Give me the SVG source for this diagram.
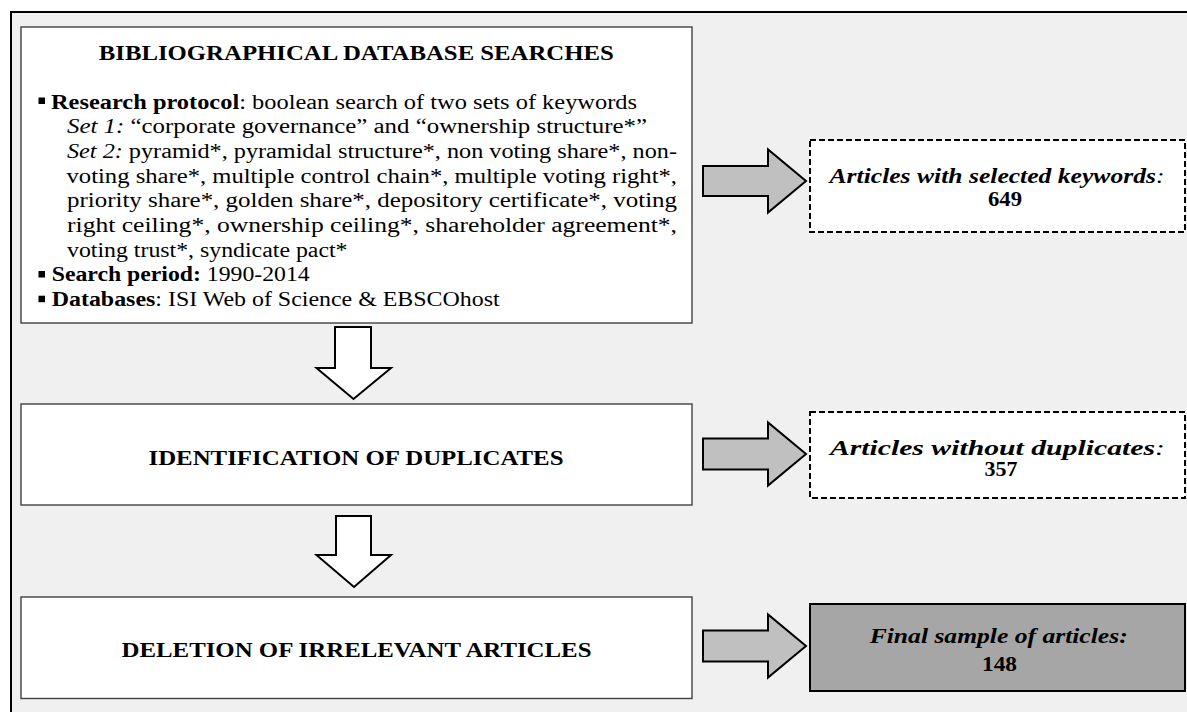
<svg xmlns="http://www.w3.org/2000/svg" width="1187" height="712" viewBox="0 0 1187 712">
<style>
text{font-family:"Liberation Serif","Times New Roman",serif;font-size:20px;fill:#000}
.b{font-weight:bold}
.i{font-style:italic}
.bi{font-weight:bold;font-style:italic}
.box{fill:#fff;stroke:#404040;stroke-width:1.4}
.dash{fill:#fff;stroke:#000;stroke-width:2;stroke-dasharray:6 3}
.final{fill:#a6a6a6;stroke:#000;stroke-width:2}
.darr{fill:#fff;stroke:#000;stroke-width:2;stroke-linejoin:miter}
.rarr{fill:#c0c0c0;stroke:#000;stroke-width:2;stroke-linejoin:miter}
.mid{text-anchor:middle}
</style>
<rect x="0" y="0" width="1187" height="712" fill="#fff"/>
<rect x="11" y="12" width="1176" height="700" fill="#f0f0f0"/>
<path d="M11 712 V12 H1187" fill="none" stroke="#000" stroke-width="2"/>

<g id="node-search">
<rect class="box" x="21" y="27" width="671" height="296"/>
<text class="b mid" x="356.3" y="60" textLength="515" lengthAdjust="spacingAndGlyphs">BIBLIOGRAPHICAL DATABASE SEARCHES</text>
<rect x="38.5" y="97.5" width="6.5" height="6.5" fill="#000"/>
<text x="51" y="108.5" textLength="586" lengthAdjust="spacingAndGlyphs"><tspan class="b">Research protocol</tspan>: boolean search of two sets of keywords</text>
<text x="67" y="133.2" textLength="580" lengthAdjust="spacingAndGlyphs"><tspan class="i">Set 1:</tspan> “corporate governance” and “ownership structure*”</text>
<text x="67" y="157.9" textLength="610" lengthAdjust="spacingAndGlyphs"><tspan class="i">Set 2:</tspan> pyramid*, pyramidal structure*, non voting share*, non-</text>
<text x="66.5" y="182.6" textLength="610.5" lengthAdjust="spacingAndGlyphs">voting share*, multiple control chain*, multiple voting right*,</text>
<text x="67" y="207.3" textLength="610" lengthAdjust="spacingAndGlyphs">priority share*, golden share*, depository certificate*, voting</text>
<text x="67" y="232" textLength="610" lengthAdjust="spacingAndGlyphs">right ceiling*, ownership ceiling*, shareholder agreement*,</text>
<text x="67" y="256.7" textLength="280.5" lengthAdjust="spacingAndGlyphs">voting trust*, syndicate pact*</text>
<rect x="38.5" y="271" width="6.5" height="6.5" fill="#000"/>
<text x="51.7" y="281.4" textLength="258" lengthAdjust="spacingAndGlyphs"><tspan class="b">Search period:</tspan> 1990-2014</text>
<rect x="38.5" y="295.7" width="6.5" height="6.5" fill="#000"/>
<text x="51.7" y="306.1" textLength="448" lengthAdjust="spacingAndGlyphs"><tspan class="b">Databases</tspan>: ISI Web of Science &amp; EBSCOhost</text>
</g>

<g id="node-duplicates">
<rect class="box" x="21" y="404" width="671" height="101"/>
<text class="b mid" x="356" y="465" textLength="415" lengthAdjust="spacingAndGlyphs">IDENTIFICATION OF DUPLICATES</text>
</g>

<g id="node-deletion">
<rect class="box" x="21" y="597" width="671" height="101.5"/>
<text class="b mid" x="356.5" y="657" textLength="470" lengthAdjust="spacingAndGlyphs">DELETION OF IRRELEVANT ARTICLES</text>
</g>

<g id="node-keywords">
<rect class="dash" x="810" y="140" width="375" height="92"/>
<text class="mid" x="997" y="182.5" textLength="335" lengthAdjust="spacingAndGlyphs"><tspan class="bi">Articles with selected keywords</tspan><tspan class="i">:</tspan></text>
<text class="b mid" x="1005" y="206" textLength="34" lengthAdjust="spacingAndGlyphs">649</text>
</g>

<g id="node-noduplicates">
<rect class="dash" x="810" y="412" width="375" height="86"/>
<text class="mid" x="997.4" y="455" textLength="335" lengthAdjust="spacingAndGlyphs"><tspan class="bi">Articles without duplicates</tspan><tspan class="i">:</tspan></text>
<text class="b mid" x="1001" y="476" textLength="33" lengthAdjust="spacingAndGlyphs">357</text>
</g>

<g id="node-final">
<rect class="final" x="810" y="604" width="375" height="87"/>
<text class="bi mid" x="998.7" y="643" textLength="258" lengthAdjust="spacingAndGlyphs">Final sample of articles:</text>
<text class="b mid" x="999.5" y="671" textLength="35" lengthAdjust="spacingAndGlyphs">148</text>
</g>

<g id="connectors">
<path class="darr" d="M335 327 H371 V368 H391 L353.5 399 L316.5 368 H335 Z"/>
<path class="darr" d="M336 516 H371 V555 H391 L354 587 L316.5 555 H336 Z"/>
<path class="rarr" d="M703 166 H768 V149.5 L806 181 L768 212.5 V196 H703 Z"/>
<path class="rarr" d="M703 438.5 H768 V422.5 L806 454 L768 485.5 V469.5 H703 Z"/>
<path class="rarr" d="M703 630.5 H768 V614.5 L806 646 L768 677.5 V661.5 H703 Z"/>
</g>
</svg>
